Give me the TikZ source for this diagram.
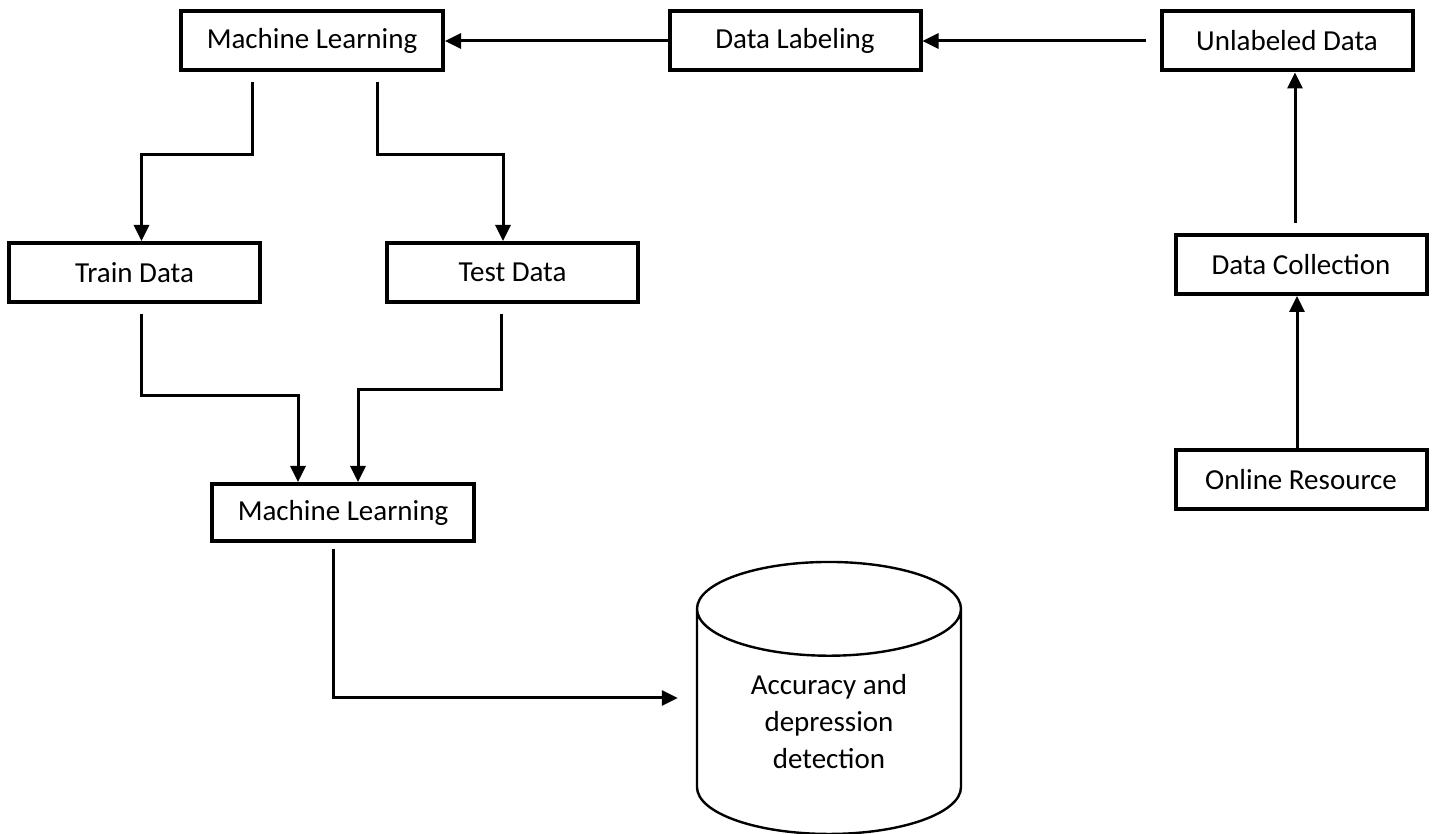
\documentclass[tikz,border=0pt]{standalone}
\usepackage{fontspec}
\setmainfont{Carlito}
\usetikzlibrary{arrows.meta}
\usetikzlibrary{calc}
\usetikzlibrary{shapes.geometric}

\tikzset{
  box/.style={draw, line width=2pt, fill=white, minimum width=125.5pt, minimum height=29.5pt, inner sep=0pt},
  db/.style={draw, line width=1.2pt, cylinder, shape border rotate=90, aspect=0.6,
    minimum width=132pt, minimum height=136pt, align=center, inner sep=0pt},
  link/.style={line width=1.5pt, -{Triangle[length=8pt,width=7.5pt]}},
}

\begin{document}
\begin{tikzpicture}[x=0.5pt, y=-0.5pt, font=\fontsize{14.5}{18.5}\selectfont]

     \useasboundingbox (0,0) rectangle (1432,834);

     % nodes
     \node[box, minimum width=131pt] (ml1) at (312,41) {Machine Learning};%
     \node[box] (label) at (795,41) {Data Labeling};%
     \node[box] (unlab) at (1287,41) {Unlabeled Data};%
     \node[box] (collect) at (1301,264.5) {Data Collection};%
     \node[box] (online) at (1301,480) {Online Resource};%

     \node[box] (train) at (134.5,272.5) {Train Data};%
     \node[box] (test) at (512.5,272.5) {Test Data};%
     \node[box, minimum width=131pt, minimum height=28.5pt] (ml2) at (343,512.5) {Machine Learning};%

     \node[db] (acc) at (829,722) {Accuracy and\\depression\\detection};%

     % edges
     \draw[link] (label.west) -- (ml1.east);
     \draw[link, shorten <=7pt] (unlab.west) -- (label.east);
     \draw[link] ($(collect.north)+(-6,-10)$) -- ($(unlab.south)+(8,0)$);
     \draw[link] ($(online.north)+(-4,0)$) -- ($(collect.south)+(-4,0)$);

     \draw[link] ($(ml1.south)+(-60,10)$) |- ($(train.north)+(7,-86)$) -- ($(train.north)+(7,0)$);
     \draw[link] ($(ml1.south)+(65,10)$) |- ($(test.north)+(-9.5,-86)$) -- ($(test.north)+(-9.5,0)$);

     \draw[link] ($(train.south)+(7,10)$) |- ($(ml2.north)+(-45,-86)$) -- ($(ml2.north)+(-45,0)$);
     \draw[link] ($(test.south)+(-11.5,10)$) |- ($(ml2.north)+(15,-92)$) -- ($(ml2.north)+(15,0)$);

     \draw[link, shorten >=9pt] ($(ml2.south)+(-10,6)$) |- ($(acc.west)+(0,-24)$);

\end{tikzpicture}
\end{document}
